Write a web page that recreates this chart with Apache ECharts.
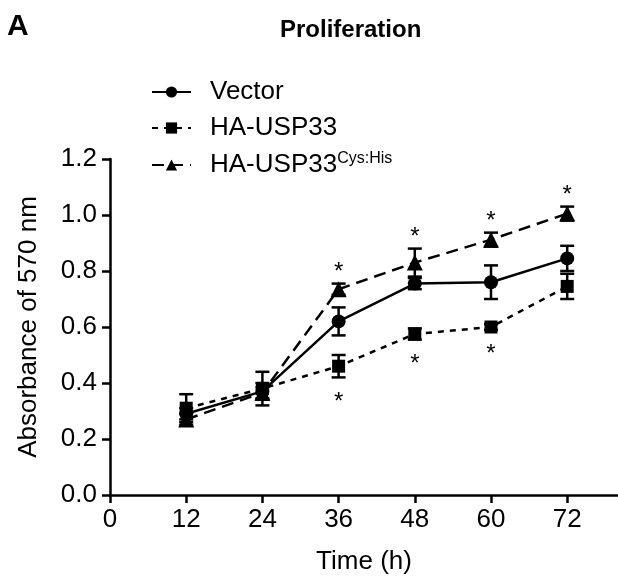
<!DOCTYPE html>
<html>
<head>
<meta charset="utf-8">
<script src="https://cdn.jsdelivr.net/npm/echarts@6/dist/echarts.min.js"></script>
<style>html,body{margin:0;padding:0;background:#fff;}#c{width:618px;height:580px;}</style>
</head>
<body>
<div id="c"></div>
<script>
const times = [12, 24, 36, 48, 60, 72];
const xTicks = [0, 12, 24, 36, 48, 60, 72];
const vectorMean = [0.29, 0.37, 0.62, 0.755, 0.76, 0.845];
const vectorErr  = [0.02, 0.03, 0.05, 0.02, 0.06, 0.045];
const usp33Mean  = [0.31, 0.38, 0.46, 0.575, 0.60, 0.745];
const usp33Err   = [0.05, 0.06, 0.04, 0.02, 0.01, 0.045];
const mutMean    = [0.27, 0.365, 0.735, 0.83, 0.912, 1.005];
const mutErr     = [0.02, 0.02, 0.02, 0.05, 0.025, 0.025];
const starsAboveMut = [36, 48, 60, 72];
const starsBelowUsp = [36, 48, 60];

const FONT = 'Liberation Sans, Arial, sans-serif';
const names = ['Vector', 'HA-USP33', 'HA-USP33Cys:His'];

function pairs(m) { return times.map((t, i) => [t, m[i]]); }
function errData(m, e) { return times.map((t, i) => [t, m[i] - e[i], m[i] + e[i]]); }

function errSeries(m, e) {
  return {
    type: 'custom',
    data: errData(m, e),
    z: 1,
    silent: true,
    renderItem: function (params, api) {
      const x = api.value(0);
      const lo = api.coord([x, api.value(1)]);
      const hi = api.coord([x, api.value(2)]);
      const hw = 7;
      const st = { stroke: '#000', lineWidth: 2.5 };
      return {
        type: 'group',
        children: [
          { type: 'line', shape: { x1: lo[0], y1: lo[1], x2: hi[0], y2: hi[1] }, style: st },
          { type: 'line', shape: { x1: lo[0] - hw, y1: lo[1], x2: lo[0] + hw, y2: lo[1] }, style: st },
          { type: 'line', shape: { x1: hi[0] - hw, y1: hi[1], x2: hi[0] + hw, y2: hi[1] }, style: st }
        ]
      };
    }
  };
}

function starSeries(list, m, e, dir) {
  const data = list.map(t => { const i = times.indexOf(t); return [t, dir > 0 ? m[i] + e[i] : m[i] - e[i]]; });
  return {
    type: 'custom',
    data: data,
    silent: true,
    z: 5,
    renderItem: function (params, api) {
      const p = api.coord([api.value(0), api.value(1)]);
      return {
        type: 'text',
        style: {
          text: '*', x: p[0], y: p[1] + (dir > 0 ? -17 : 19) + 6,
          fill: '#000', font: '24px ' + FONT,
          align: 'center', verticalAlign: 'middle'
        }
      };
    }
  };
}

const chart = echarts.init(document.getElementById('c'), null, { renderer: 'canvas' });
chart.setOption({
  animation: false,
  backgroundColor: '#fff',
  title: [
    { text: 'A', left: 2, top: 7, textStyle: { fontFamily: FONT, fontSize: 30, fontWeight: 'bold', color: '#000' } },
    { text: 'Proliferation', left: 275, top: 13, textStyle: { fontFamily: FONT, fontSize: 24, fontWeight: 'bold', color: '#000' } }
  ],
  legend: {
    orient: 'vertical', left: 146, top: 74,
    itemWidth: 39, itemHeight: 14, itemGap: 10,
    data: names,
    textStyle: {
      fontFamily: FONT, fontSize: 26, color: '#000', padding: [0, 0, 0, 14],
      rich: {
        m: { fontFamily: FONT, fontSize: 26, color: '#000' },
        s: { fontFamily: FONT, fontSize: 16, color: '#000', verticalAlign: 'top', padding: [0, 0, 12, 0] }
      }
    },
    formatter: function (n) { return n === 'HA-USP33Cys:His' ? '{m|HA-USP33}{s|Cys:His}' : n; }
  },
  grid: { left: 110, right: 0, top: 159, bottom: 83, containLabel: false },
  xAxis: {
    type: 'value', min: 0, max: 80,
    name: 'Time (h)', nameLocation: 'middle', nameGap: 54,
    nameTextStyle: { fontFamily: FONT, fontSize: 26, color: '#000' },
    axisLine: { lineStyle: { color: '#000', width: 2.5 } },
    axisTick: { show: true, length: 8, lineStyle: { color: '#000', width: 2.5 }, customValues: xTicks },
    axisLabel: { fontFamily: FONT, fontSize: 26, color: '#000', margin: 12, customValues: xTicks },
    splitLine: { show: false }
  },
  yAxis: {
    type: 'value', min: 0, max: 1.2, interval: 0.2,
    name: 'Absorbance of 570 nm', nameLocation: 'middle', nameGap: 68,
    nameTextStyle: { fontFamily: FONT, fontSize: 26, color: '#000' },
    axisLine: { show: true, lineStyle: { color: '#000', width: 2.5 } },
    axisTick: { show: true, length: 8, lineStyle: { color: '#000', width: 2.5 } },
    axisLabel: { fontFamily: FONT, fontSize: 26, color: '#000', margin: 13, formatter: v => v.toFixed(1) },
    splitLine: { show: false }
  },
  series: [
    errSeries(vectorMean, vectorErr),
    errSeries(usp33Mean, usp33Err),
    errSeries(mutMean, mutErr),
    {
      name: names[0], type: 'line', data: pairs(vectorMean), z: 3,
      symbol: 'circle', symbolSize: 14,
      lineStyle: { color: '#000', width: 2.5, type: 'solid' },
      itemStyle: { color: '#000' }
    },
    {
      name: names[1], type: 'line', data: pairs(usp33Mean), z: 3,
      symbol: 'rect', symbolSize: 13,
      lineStyle: { color: '#000', width: 2.5, type: [6, 6] },
      itemStyle: { color: '#000' }
    },
    {
      name: names[2], type: 'line', data: pairs(mutMean), z: 3,
      symbol: 'triangle', symbolSize: 16,
      lineStyle: { color: '#000', width: 2.5, type: [12, 7] },
      itemStyle: { color: '#000' }
    },
    starSeries(starsAboveMut, mutMean, mutErr, 1),
    starSeries(starsBelowUsp, usp33Mean, usp33Err, -1)
  ]
});
</script>
</body>
</html>
